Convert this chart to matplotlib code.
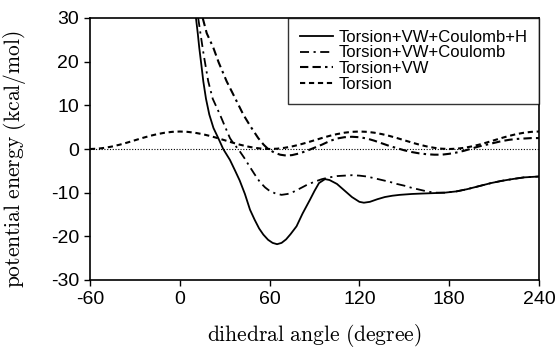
import numpy as np
import matplotlib
matplotlib.use("Agg")
from matplotlib import pyplot as plt

# values (angle in degree, energy in kcal/mol)
torsion_x = [-60, -55, -50, -45, -40, -35, -30, -25, -20, -15, -10, -5, 0, 5, 10, 15, 20, 25, 30, 35, 40,
             45, 50, 55, 60, 65, 70, 75, 80, 85, 90, 95, 100, 105, 110, 115, 120, 125, 130, 135, 140,
             145, 150, 155, 160, 165, 170, 175, 180, 185, 190, 195, 200, 205, 210, 215, 220, 225, 230, 235, 240]
torsion_y = [0.0, 0.07, 0.27, 0.59, 1.0, 1.48, 2.0, 2.52, 3.0, 3.41, 3.73, 3.93, 4.0, 3.93, 3.73, 3.41, 3.0, 2.52, 2.0, 1.48, 1.0,
             0.59, 0.27, 0.07, 0.0, 0.07, 0.27, 0.59, 1.0, 1.48, 2.0, 2.52, 3.0, 3.41, 3.73, 3.93, 4.0, 3.93, 3.73, 3.41, 3.0,
             2.52, 2.0, 1.48, 1.0, 0.59, 0.27, 0.07, 0.0, 0.07, 0.27, 0.59, 1.0, 1.48, 2.0, 2.52, 3.0, 3.41, 3.73, 3.93, 4.0]

tv_x = [15.3, 18, 22.4, 26, 31.3, 36, 42.4, 47, 52.4, 56, 59, 63, 67, 71, 75, 80, 85, 90, 95, 100, 105, 110, 115,
        120, 125, 130, 135, 140, 145, 150, 155, 160, 165, 170, 175, 180, 185, 190, 195, 200, 205, 210, 215, 220,
        225, 230, 235, 240]
tv_y = [30, 26.5, 23.2, 19.8, 15.5, 12.3, 7.9, 5.3, 2.5, 1.0, 0.0, -0.8, -1.3, -1.5, -1.4, -1.0, -0.4, 0.3, 1.0, 1.8, 2.4, 2.7, 2.8,
        2.7, 2.4, 1.9, 1.3, 0.7, 0.2, -0.3, -0.7, -1.0, -1.2, -1.3, -1.3, -1.1, -0.8, -0.4, 0.1, 0.6, 1.0, 1.4, 1.8, 2.1,
        2.3, 2.4, 2.5, 2.5]

tvc_x = [12.3, 14, 16, 19, 22, 26.8, 30, 33.5, 36, 39, 43, 47, 50, 53.6, 57, 60, 64, 68, 72, 76, 80, 85, 90, 95,
         100, 105, 110, 115, 120, 125, 130, 135, 140, 145, 150, 155, 160, 165, 170, 177, 185, 192, 200, 208, 215,
         222, 230, 240]
tvc_y = [30, 26, 21.5, 15.5, 11.5, 7.9, 5.3, 2.5, 1.2, 0.0, -2.0, -4.2, -5.8, -7.6, -8.8, -9.6, -10.2, -10.5, -10.3, -9.8, -9.1, -8.2, -7.5, -6.9,
         -6.5, -6.2, -6.1, -6.0, -6.1, -6.3, -6.7, -7.1, -7.5, -8.0, -8.4, -8.9, -9.3, -9.7, -10.0, -10.0, -9.7, -9.2, -8.5, -7.8, -7.3,
         -6.9, -6.5, -6.3]

full_x = [10.8, 12, 13, 14.5, 15.7, 17.5, 19.7, 22.5, 25.7, 29, 33.5, 37, 40, 43.5, 46.9, 50, 53, 55.8, 59, 62, 65, 68,
          71, 74, 78, 82, 87, 90, 93, 97, 100, 105, 110, 115, 120, 123, 127, 132, 137, 142, 147, 155, 162, 170, 177,
          185, 192, 200, 208, 215, 222, 230, 240]
full_y = [30, 26.5, 23.2, 19, 15.5, 11.5, 7.9, 4.8, 2.5, 0.0, -2.5, -5.0, -7.2, -10.3, -13.9, -16.2, -18.2, -19.6, -20.8, -21.5, -21.8, -21.5,
          -20.7, -19.5, -17.7, -14.8, -11.6, -9.6, -7.8, -6.9, -7.1, -8.0, -9.5, -11.0, -12.1, -12.3, -12.1, -11.5, -11.0, -10.7, -10.5, -10.3, -10.2, -10.1, -10.0,
          -9.7, -9.2, -8.5, -7.8, -7.3, -6.9, -6.5, -6.3]

labels = ["Torsion+VW+Coulomb+H", "Torsion+VW+Coulomb", "Torsion+VW", "Torsion"]
x_ticks = [-60, 0, 60, 120, 180, 240]
y_ticks = [-30, -20, -10, 0, 10, 20, 30]

plt.rcParams['font.family'] = ['Liberation Sans', 'DejaVu Sans']
plt.rcParams['mathtext.fontset'] = 'cm'

fig = plt.figure(figsize=(5.59, 3.55), dpi=100)
ax = fig.add_axes([90 / 559, 1 - 280 / 355, 449 / 559, 262 / 355])

# zero reference line
ax.axhline(0, color='black', lw=0.8, linestyle=(0, (1, 1.5)))

ax.plot(full_x, full_y, color='black', lw=1.3, label=labels[0])
ax.plot(tvc_x, tvc_y, color='black', lw=1.3, linestyle=(0, (5, 2.5, 1.2, 2.5)), label=labels[1])
ax.plot(tv_x, tv_y, color='black', lw=1.5, linestyle=(0, (4, 2, 4, 2, 1.2, 2)), label=labels[2])
ax.plot(torsion_x, torsion_y, color='black', lw=1.5, linestyle=(0, (2.5, 1.8)), label=labels[3])

ax.set_xlim(-60, 240)
ax.set_ylim(-30, 30)
ax.set_xticks(x_ticks)
ax.set_yticks(y_ticks)
ax.set_xticklabels([str(v) for v in x_ticks])
ax.set_yticklabels([str(v) for v in y_ticks])
ax.tick_params(direction='out', length=4, width=1, labelsize=14, colors='black', pad=4)
for s in ax.spines.values():
    s.set_linewidth(1.2)

ax.set_xlabel(r'$\mathrm{dihedral\ angle\ (degree)}$', fontsize=15.5, labelpad=10)
ax.set_ylabel(r'$\mathrm{potential\ energy\ (kcal/mol)}$', fontsize=15.5)
ax.yaxis.set_label_coords(-0.138, 0.46)

leg = ax.legend(loc='upper right', fontsize=12, frameon=True, fancybox=False, edgecolor='black',
                borderaxespad=0.0, handlelength=2.0, handletextpad=0.3, labelspacing=0.05, borderpad=0.7)
leg.get_frame().set_linewidth(1.0)

fig.savefig('out.png', dpi=100)
